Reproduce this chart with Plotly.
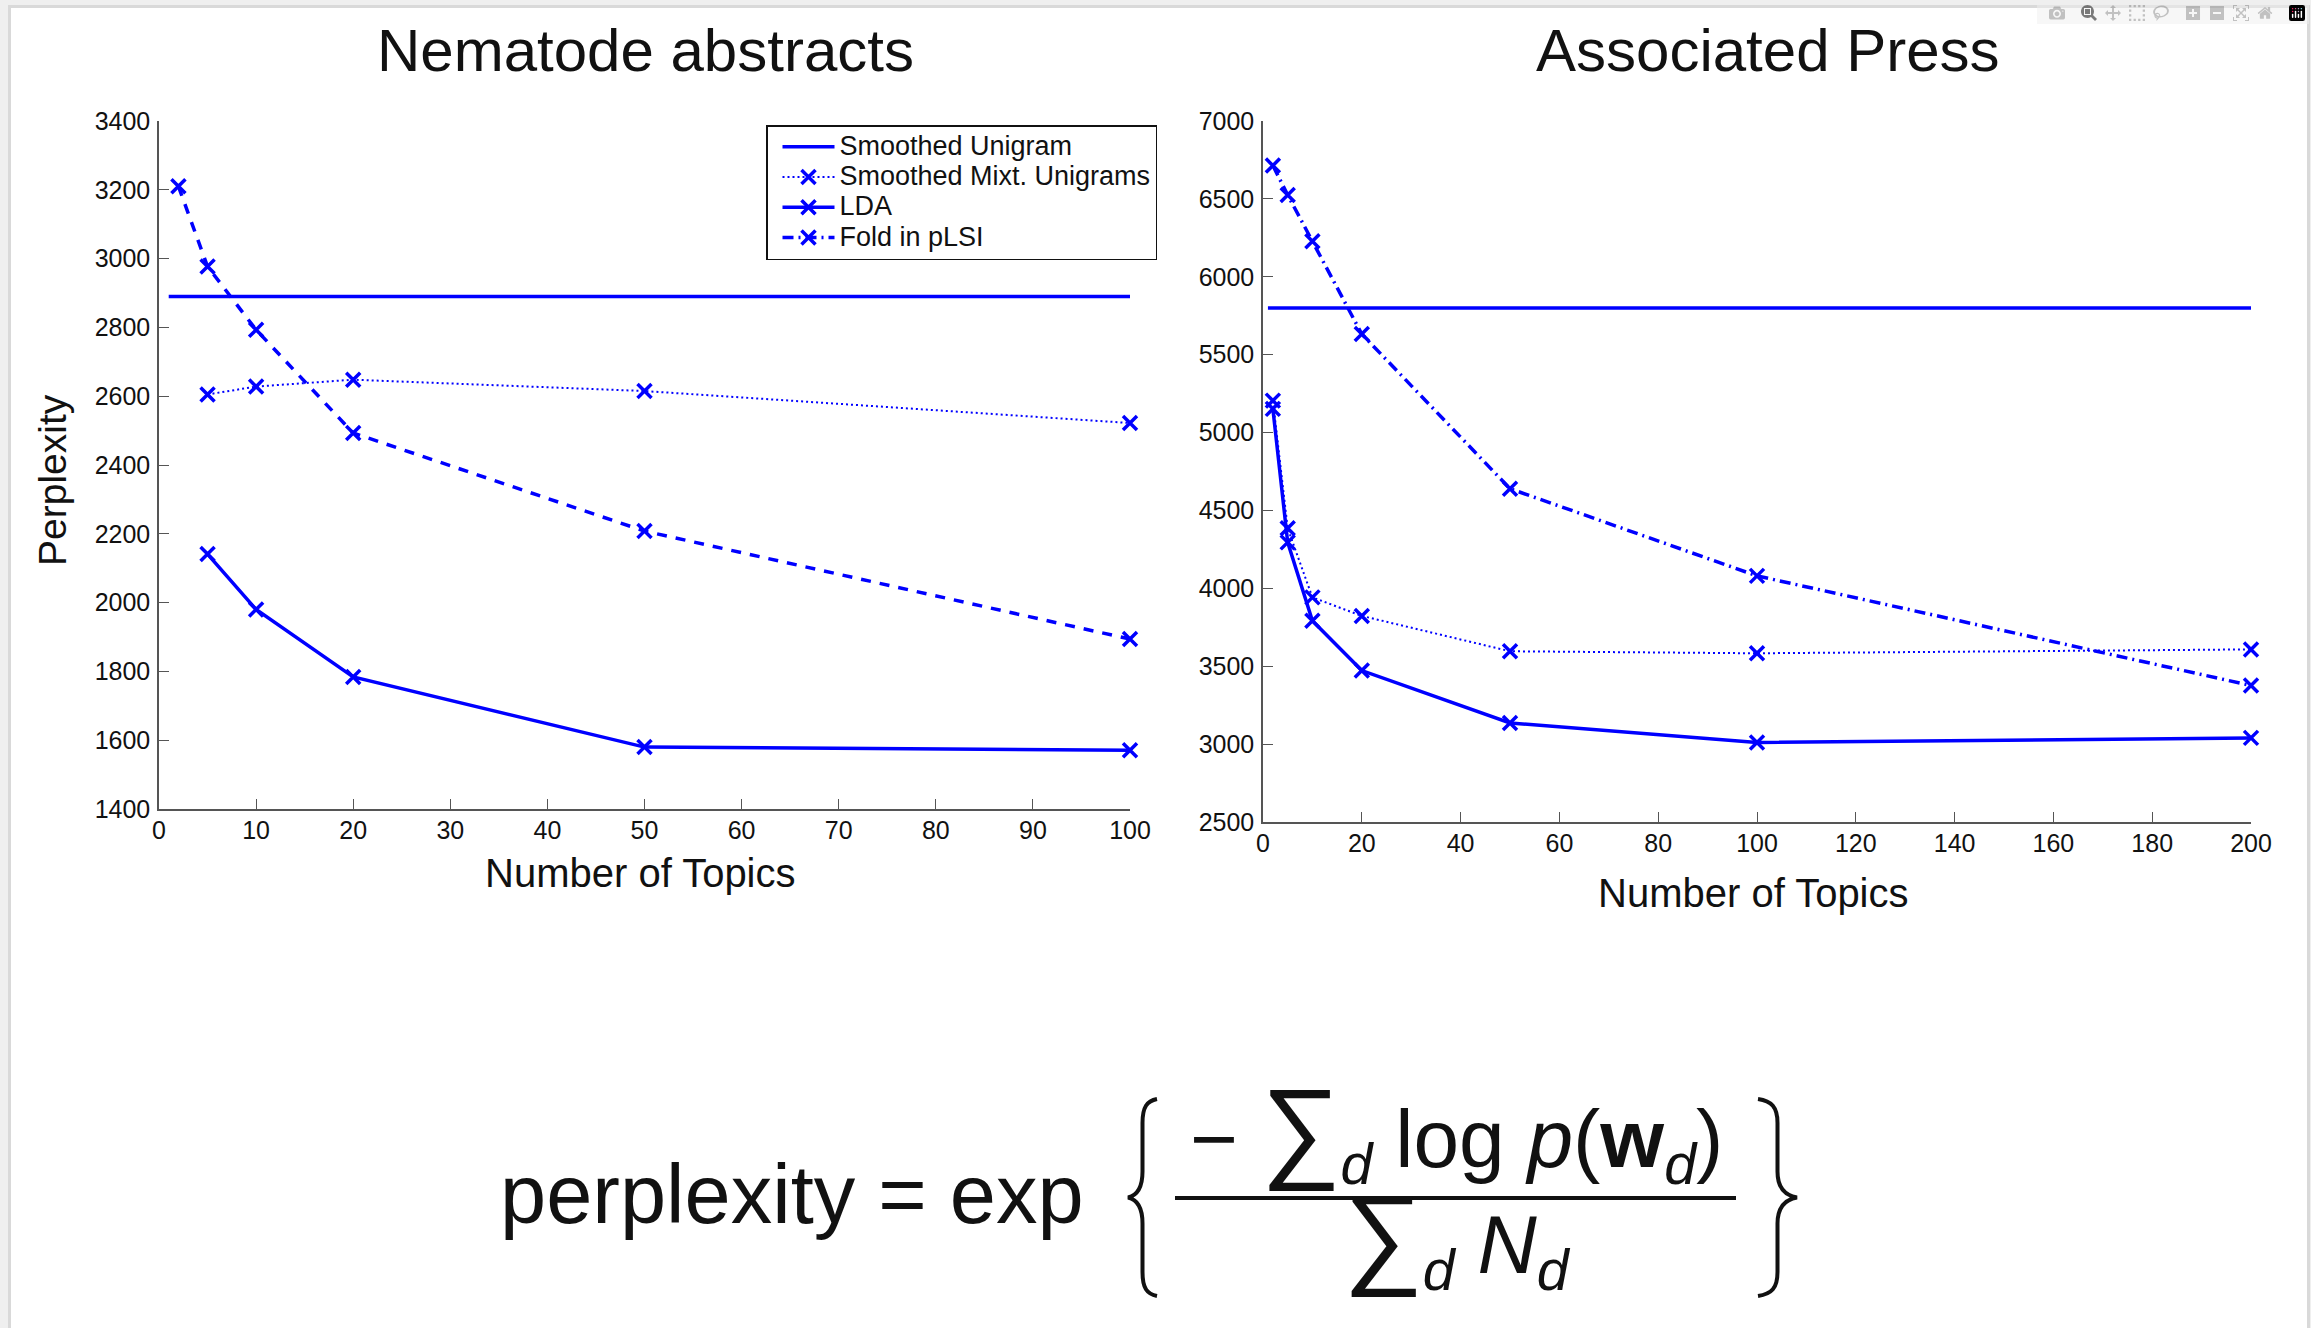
import plotly.graph_objects as go

# ---------------- data ----------------
nem_topics_plsi = [2, 5, 10, 20, 50, 100]
nem_plsi = [3210, 2977, 2793, 2493, 2208, 1894]
nem_topics = [5, 10, 20, 50, 100]
nem_mixt = [2605, 2628, 2648, 2615, 2522]
nem_lda = [2141, 1980, 1784, 1580, 1571]
nem_unigram_x = [1, 100]
nem_unigram = [2890, 2890]

ap_topics = [2, 5, 10, 20, 50, 100, 200]
ap_plsi = [6714, 6525, 6228, 5632, 4640, 4080, 3376]
ap_mixt = [5205, 4385, 3942, 3823, 3596, 3583, 3608]
ap_lda = [5152, 4295, 3792, 3472, 3136, 3010, 3040]
ap_unigram_x = [1, 200]
ap_unigram = [5800, 5800]

series_names = ["Smoothed Unigram", "Smoothed Mixt. Unigrams", "LDA", "Fold in pLSI"]
titles = ["Nematode abstracts", "Associated Press"]
x_title = "Number of Topics"
y_title = "Perplexity"

# ---------------- style ----------------
W, H = 2311, 1328
BLUE = "#0000ff"
FONT = "Liberation Sans, Arial, Helvetica, sans-serif"
AXC = "#555555"


def px(x):
    return x / W


def py(y):
    return 1 - y / H


mk = dict(symbol="x-thin", size=14, line=dict(color=BLUE, width=3.5), color=BLUE)

fig = go.Figure()


def legend_label(s):
    return f"<span style='font-size:27px'>{s}</span>"


def add_panel(xa, ya, ux, uy, mx, my, lx, ly, plx, ply, plsi_dash, legend_flags):
    common = dict(xaxis=xa, yaxis=ya, cliponaxis=False)
    fig.add_trace(go.Scatter(x=ux, y=uy, mode="lines", name=legend_label(series_names[0]),
                             line=dict(color=BLUE, width=3.5),
                             showlegend=legend_flags[0], **common))
    fig.add_trace(go.Scatter(x=mx, y=my, mode="lines+markers", name=legend_label(series_names[1]),
                             line=dict(color=BLUE, width=2, dash="2px,3px"), marker=mk,
                             showlegend=legend_flags[1], **common))
    fig.add_trace(go.Scatter(x=lx, y=ly, mode="lines+markers", name=legend_label(series_names[2]),
                             line=dict(color=BLUE, width=3.5), marker=mk,
                             showlegend=legend_flags[2], **common))
    fig.add_trace(go.Scatter(x=plx, y=ply, mode="lines+markers", name=legend_label(series_names[3]),
                             line=dict(color=BLUE, width=3.5, dash=plsi_dash), marker=mk,
                             showlegend=legend_flags[3], **common))


add_panel("x", "y", nem_unigram_x, nem_unigram, nem_topics, nem_mixt, nem_topics, nem_lda,
          nem_topics_plsi, nem_plsi, "10px,9px", [True, True, True, False])
add_panel("x2", "y2", ap_unigram_x, ap_unigram, ap_topics, ap_mixt, ap_topics, ap_lda,
          ap_topics, ap_plsi, "11px,5px,2px,5px", [False, False, False, True])

axis_common = dict(showgrid=False, zeroline=False, showline=True, linecolor=AXC, linewidth=1.5,
                   ticks="inside", ticklen=10, tickwidth=1.3, tickcolor=AXC, mirror=False,
                   automargin=False,
                   tickfont=dict(family=FONT, size=25, color="#111111"))

# panel geometry in pixels
L1 = (159, 1130, 121, 809)
L2 = (1263, 2251, 121, 822)

fig.update_layout(
    width=W, height=H, autosize=False,
    margin=dict(l=0, r=0, t=0, b=0, pad=0, autoexpand=False),
    paper_bgcolor="#efefef",
    plot_bgcolor="rgba(0,0,0,0)",
    font=dict(family=FONT, color="#111111"),
    xaxis=dict(domain=[px(L1[0]), px(L1[1])], range=[0, 100], tick0=0, dtick=10, anchor="y",
               ticklabelstandoff=-2, **axis_common),
    yaxis=dict(domain=[py(L1[3]), py(L1[2])], range=[1400, 3400], tick0=1400, dtick=200, anchor="x",
               ticklabelstandoff=2, **axis_common),
    xaxis2=dict(domain=[px(L2[0]), px(L2[1])], range=[0, 200], tick0=0, dtick=20, anchor="y2",
                ticklabelstandoff=-2, **axis_common),
    yaxis2=dict(domain=[py(L2[3]), py(L2[2])], range=[2500, 7000], tick0=2500, dtick=500, anchor="x2",
                ticklabelstandoff=2, **axis_common),
    legend=dict(x=px(766), y=py(125), xanchor="left", yanchor="top",
                bgcolor="white", bordercolor="#111111", borderwidth=1.5,
                font=dict(family=FONT, size=21, color="#111111"),
                tracegroupgap=0, itemwidth=52, indentation=10),
    showlegend=True,
)

annotations = []


def text(t, x, y, size, xanchor="center", yanchor="middle", angle=0):
    annotations.append(dict(text=t, x=px(x), y=py(y), xref="paper", yref="paper",
                            xanchor=xanchor, yanchor=yanchor, showarrow=False, textangle=angle,
                            font=dict(family=FONT, size=size, color="#111111")))


text(titles[0], 645, 50, 60)
text(titles[1], 1768, 50, 60)
text(x_title, 640, 873, 40)
text(x_title, 1753, 893, 40)
text(y_title, 52, 480, 39, angle=-90)

# formula
text("perplexity = exp", 498, 1194, 83, xanchor="left")
text("− <span style='font-size:112px'>∑</span><sub><i>d</i></sub> log <i>p</i>(<b>w</b><sub><i>d</i></sub>)",
     1456, 1131, 82)
text("<span style='font-size:112px'>∑</span><sub><i>d</i></sub> <i>N</i><sub><i>d</i></sub>",
     1457, 1237, 82)

fig.update_layout(annotations=annotations)


def brace(xe, xt, top, bottom):
    xm = (xe + xt) / 2
    mid = (top + bottom) / 2
    pts = [
        ("M", [(xe, top)]),
        ("C", [(xm + (xe - xm) * 0.3, top + 2), (xm, top + 8), (xm, top + 24)]),
        ("L", [(xm, mid - 26)]),
        ("C", [(xm, mid - 9), (xm + (xt - xm) * 0.4, mid - 2), (xt, mid)]),
        ("C", [(xm + (xt - xm) * 0.4, mid + 2), (xm, mid + 9), (xm, mid + 26)]),
        ("L", [(xm, bottom - 24)]),
        ("C", [(xm, bottom - 8), (xm + (xe - xm) * 0.3, bottom - 2), (xe, bottom)]),
    ]
    s = ""
    for cmd, ps in pts:
        s += cmd + " ".join(f"{px(a):.6f},{py(b):.6f}" for a, b in ps) + " "
    return s.strip()


shapes = [
    dict(type="rect", xref="paper", yref="paper", x0=px(8), x1=px(2310), y0=py(1340), y1=py(5),
         fillcolor="#d9d9d9", line=dict(width=0), layer="below"),
    dict(type="rect", xref="paper", yref="paper", x0=px(11), x1=px(2307), y0=py(1340), y1=py(8),
         fillcolor="white", line=dict(width=0), layer="below"),
    # fraction bar
    dict(type="line", xref="paper", yref="paper", x0=px(1175), x1=px(1736), y0=py(1198), y1=py(1198),
         line=dict(color="#111111", width=4)),
    dict(type="path", xref="paper", yref="paper", path=brace(1157, 1128, 1099, 1296),
         line=dict(color="#111111", width=4)),
    dict(type="path", xref="paper", yref="paper", path=brace(1758, 1797, 1099, 1296),
         line=dict(color="#111111", width=4)),
]
fig.update_layout(shapes=shapes)

fig.write_html("out.html",
               post_script="document.body.style.margin='0';document.body.style.overflow='hidden';")
